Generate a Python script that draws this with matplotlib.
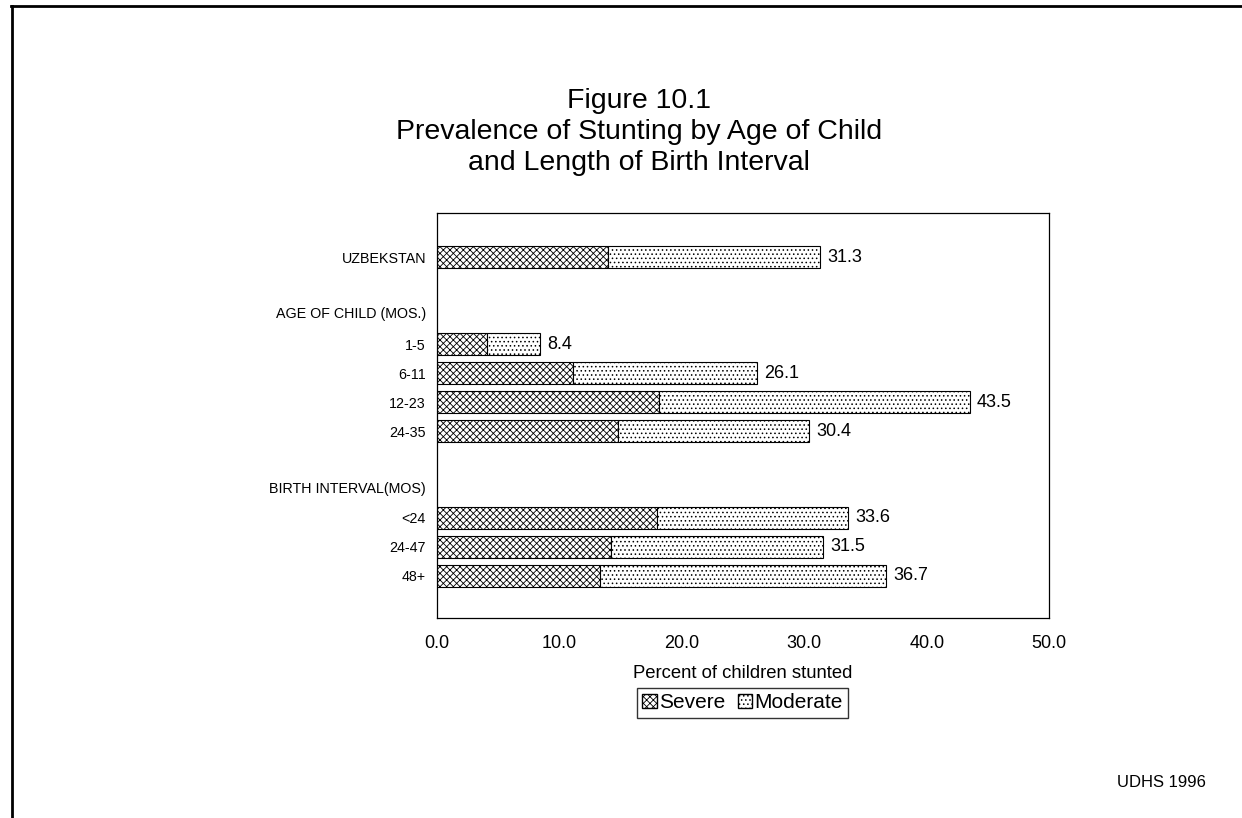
import matplotlib
matplotlib.use("Agg")
import matplotlib.pyplot as plt
from matplotlib.patches import Patch
from matplotlib.lines import Line2D

plt.rcParams["font.family"] = ["Liberation Sans", "DejaVu Sans"]
plt.rcParams["hatch.linewidth"] = 0.6

# data
groups = ["UZBEKSTAN", "1-5", "6-11", "12-23", "24-35", "<24", "24-47", "48+"]
positions = [0, 3, 4, 5, 6, 9, 10, 11]
severe = [14.0, 4.1, 11.1, 18.1, 14.8, 18.0, 14.2, 13.3]
total = [31.3, 8.4, 26.1, 43.5, 30.4, 33.6, 31.5, 36.7]
moderate = [t - s for t, s in zip(total, severe)]
headers = ["AGE OF CHILD (MOS.)", "BIRTH INTERVAL(MOS)"]
header_pos = [1.9, 7.95]
xticks = [0, 10, 20, 30, 40, 50]

fig = plt.figure(figsize=(12.42, 8.18), dpi=100)
ax = fig.add_axes([0.3519, 0.2445, 0.4928, 0.4951])

ax.barh(positions, severe, height=0.78, color="white", edgecolor="black",
        hatch="xxxxx", linewidth=0.8, label="Severe")
ax.barh(positions, moderate, left=severe, height=0.78, color="white",
        edgecolor="black", hatch="....", linewidth=0.8, label="Moderate")

for p, t in zip(positions, total):
    ax.text(t + 0.6, p, f"{t:.1f}", va="center", ha="left", fontsize=13)

ax.set_xlim(0, 50)
ax.set_ylim(12.45, -1.52)
ax.set_xticks(xticks)
ax.set_xticklabels([f"{v:.1f}" for v in xticks], fontsize=13)
ax.set_yticks(positions + header_pos)
ax.set_yticklabels(groups + headers, fontsize=10.3)
ax.tick_params(length=0)
ax.tick_params(axis="x", pad=12.5)
ax.tick_params(axis="y", pad=8)
for s in ax.spines.values():
    s.set_linewidth(0.9)

ax.set_xlabel("Percent of children stunted", fontsize=13.3, labelpad=9)

handles = [Patch(facecolor="white", edgecolor="black", hatch="xxxxx", label="Severe"),
           Patch(facecolor="white", edgecolor="black", hatch="....", label="Moderate")]
fig.legend(handles=handles, loc="center", bbox_to_anchor=(0.598, 0.1406), ncol=2,
           fontsize=15, frameon=True, fancybox=False, edgecolor="black",
           handlelength=0.7, handleheight=0.7, handletextpad=0.1,
           columnspacing=0.6, borderpad=0.25, borderaxespad=0)

fig.text(0.5145, 0.839, "Figure 10.1\nPrevalence of Stunting by Age of Child\nand Length of Birth Interval",
         ha="center", va="center", fontsize=20.5, linespacing=1.25)
fig.text(0.971, 0.043, "UDHS 1996", ha="right", va="center", fontsize=12)

# page frame lines (top and left)
fig.add_artist(Line2D([0.009, 1.0], [0.993, 0.993], color="black", lw=2.0))
fig.add_artist(Line2D([0.010, 0.010], [0.0, 0.993], color="black", lw=2.0))

fig.savefig("out.png", dpi=100)
